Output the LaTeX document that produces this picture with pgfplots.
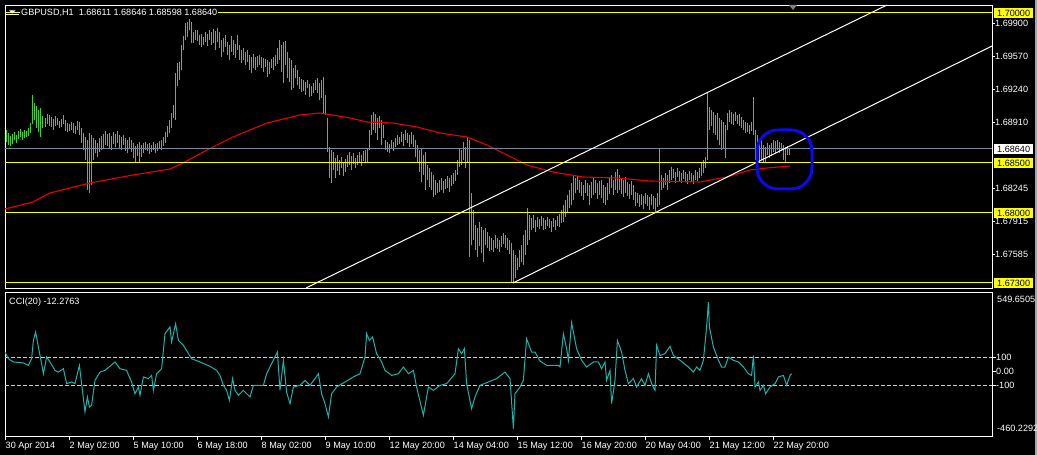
\documentclass[border=0pt]{standalone}
\usepackage{pgfplots}
\pgfplotsset{compat=1.18}
\usepackage{pgfplotstable}
\usepackage{fontspec}
\setmainfont{Liberation Sans}
\definecolor{barcol}{RGB}{60,210,40}
\definecolor{macol}{RGB}{235,0,0}
\definecolor{ccicol}{RGB}{32,178,170}
\definecolor{lvl}{RGB}{255,255,0}
\definecolor{slate}{RGB}{119,136,153}
\definecolor{circ}{RGB}{10,10,240}
\newcommand{\lf}{\fontsize{9.1}{10}\selectfont}

\pgfplotstableread{
x lo hi
0 1.6863 1.6886
1 1.6871 1.6883
2 1.6868 1.6880
3 1.6867 1.6877
4 1.6869 1.6879
5 1.6873 1.6881
6 1.6870 1.6878
7 1.6874 1.6882
8 1.6876 1.6884
9 1.6873 1.6881
10 1.6875 1.6883
11 1.6876 1.6882
12 1.6877 1.6885
13 1.6880 1.6890
14 1.6889 1.6918
15 1.6893 1.6910
16 1.6885 1.6907
17 1.6881 1.6903
18 1.6876 1.6905
19 1.6885 1.6897
20 1.6886 1.6895
21 1.6889 1.6899
22 1.6887 1.6898
23 1.6886 1.6896
24 1.6883 1.6894
25 1.6887 1.6897
26 1.6888 1.6895
27 1.6885 1.6892
28 1.6886 1.6894
29 1.6889 1.6898
30 1.6882 1.6893
31 1.6881 1.6890
32 1.6882 1.6889
33 1.6883 1.6891
34 1.6880 1.6890
35 1.6879 1.6887
36 1.6883 1.6892
37 1.6878 1.6891
38 1.6870 1.6885
39 1.6863 1.6880
40 1.6853 1.6876
41 1.6823 1.6873
42 1.6820 1.6880
43 1.6828 1.6878
44 1.6853 1.6875
45 1.6860 1.6873
46 1.6856 1.6870
47 1.6861 1.6875
48 1.6863 1.6877
49 1.6864 1.6879
50 1.6868 1.6882
51 1.6867 1.6879
52 1.6865 1.6880
53 1.6863 1.6877
54 1.6869 1.6881
55 1.6866 1.6879
56 1.6870 1.6882
57 1.6865 1.6878
58 1.6863 1.6876
59 1.6868 1.6878
60 1.6862 1.6875
61 1.6860 1.6873
62 1.6864 1.6876
63 1.6861 1.6873
64 1.6855 1.6870
65 1.6851 1.6867
66 1.6857 1.6869
67 1.6851 1.6871
68 1.6856 1.6868
69 1.6860 1.6870
70 1.6863 1.6871
71 1.6862 1.6869
72 1.6859 1.6870
73 1.6861 1.6868
74 1.6863 1.6871
75 1.6860 1.6869
76 1.6862 1.6870
77 1.6864 1.6872
78 1.6863 1.6873
79 1.6867 1.6876
80 1.6870 1.6881
81 1.6876 1.6887
82 1.6880 1.6893
83 1.6885 1.6900
84 1.6895 1.6908
85 1.6893 1.6940
86 1.6927 1.6950
87 1.6933 1.6951
88 1.6943 1.6968
89 1.6963 1.6977
90 1.6973 1.6990
91 1.6976 1.6991
92 1.6983 1.6994
93 1.6970 1.6991
94 1.6970 1.6981
95 1.6973 1.6983
96 1.6972 1.6983
97 1.6968 1.6978
98 1.6966 1.6979
99 1.6968 1.6976
100 1.6971 1.6981
101 1.6967 1.6979
102 1.6973 1.6983
103 1.6968 1.6981
104 1.6970 1.6984
105 1.6963 1.6982
106 1.6971 1.6985
107 1.6965 1.6981
108 1.6956 1.6973
109 1.6961 1.6975
110 1.6966 1.6978
111 1.6958 1.6971
112 1.6953 1.6968
113 1.6961 1.6977
114 1.6958 1.6973
115 1.6955 1.6969
116 1.6963 1.6978
117 1.6953 1.6968
118 1.6950 1.6963
119 1.6953 1.6965
120 1.6948 1.6961
121 1.6951 1.6963
122 1.6943 1.6958
123 1.6940 1.6956
124 1.6945 1.6959
125 1.6943 1.6956
126 1.6946 1.6957
127 1.6948 1.6958
128 1.6945 1.6956
129 1.6941 1.6955
130 1.6946 1.6954
131 1.6936 1.6953
132 1.6939 1.6951
133 1.6945 1.6954
134 1.6943 1.6956
135 1.6947 1.6958
136 1.6949 1.6965
137 1.6953 1.6973
138 1.6941 1.6968
139 1.6930 1.6971
140 1.6948 1.6972
141 1.6935 1.6961
142 1.6931 1.6955
143 1.6923 1.6953
144 1.6925 1.6945
145 1.6935 1.6948
146 1.6928 1.6943
147 1.6924 1.6936
148 1.6921 1.6934
149 1.6922 1.6933
150 1.6918 1.6931
151 1.6925 1.6933
152 1.6916 1.6929
153 1.6917 1.6927
154 1.6920 1.6930
155 1.6923 1.6933
156 1.6920 1.6935
157 1.6913 1.6930
158 1.6915 1.6933
159 1.6900 1.6936
160 1.6898 1.6918
161 1.6861 1.6895
162 1.6835 1.6866
163 1.6830 1.6863
164 1.6843 1.6861
165 1.6835 1.6855
166 1.6842 1.6858
167 1.6838 1.6853
168 1.6845 1.6856
169 1.6837 1.6850
170 1.6841 1.6854
171 1.6846 1.6858
172 1.6848 1.6861
173 1.6843 1.6857
174 1.6849 1.6860
175 1.6845 1.6855
176 1.6848 1.6858
177 1.6850 1.6861
178 1.6847 1.6858
179 1.6852 1.6862
180 1.6851 1.6863
181 1.6850 1.6865
182 1.6863 1.6883
183 1.6878 1.6898
184 1.6883 1.6901
185 1.6880 1.6899
186 1.6873 1.6895
187 1.6885 1.6897
188 1.6868 1.6893
189 1.6875 1.6888
190 1.6863 1.6873
191 1.6861 1.6871
192 1.6860 1.6869
193 1.6865 1.6873
194 1.6862 1.6871
195 1.6866 1.6875
196 1.6868 1.6878
197 1.6869 1.6876
198 1.6871 1.6881
199 1.6867 1.6879
200 1.6873 1.6883
201 1.6870 1.6880
202 1.6866 1.6878
203 1.6869 1.6881
204 1.6866 1.6878
205 1.6856 1.6873
206 1.6850 1.6868
207 1.6841 1.6863
208 1.6831 1.6865
209 1.6838 1.6858
210 1.6823 1.6861
211 1.6833 1.6848
212 1.6826 1.6845
213 1.6823 1.6841
214 1.6816 1.6838
215 1.6818 1.6833
216 1.6820 1.6830
217 1.6821 1.6833
218 1.6823 1.6835
219 1.6820 1.6832
220 1.6824 1.6834
221 1.6825 1.6837
222 1.6821 1.6835
223 1.6827 1.6838
224 1.6829 1.6840
225 1.6832 1.6843
226 1.6838 1.6853
227 1.6846 1.6865
228 1.6848 1.6863
229 1.6853 1.6871
230 1.6845 1.6866
231 1.6850 1.6875
232 1.6756 1.6873
233 1.6768 1.6820
234 1.6773 1.6803
235 1.6763 1.6788
236 1.6756 1.6785
237 1.6767 1.6791
238 1.6760 1.6786
239 1.6751 1.6783
240 1.6768 1.6785
241 1.6765 1.6781
242 1.6762 1.6777
243 1.6763 1.6775
244 1.6761 1.6773
245 1.6765 1.6778
246 1.6764 1.6775
247 1.6761 1.6773
248 1.6766 1.6777
249 1.6769 1.6780
250 1.6765 1.6778
251 1.6763 1.6775
252 1.6759 1.6773
253 1.6730 1.6770
254 1.6730 1.6763
255 1.6735 1.6758
256 1.6743 1.6755
257 1.6746 1.6763
258 1.6751 1.6768
259 1.6748 1.6778
260 1.6758 1.6783
261 1.6768 1.6805
262 1.6773 1.6798
263 1.6783 1.6795
264 1.6785 1.6798
265 1.6781 1.6793
266 1.6786 1.6796
267 1.6784 1.6794
268 1.6787 1.6797
269 1.6783 1.6795
270 1.6784 1.6793
271 1.6787 1.6796
272 1.6785 1.6794
273 1.6781 1.6792
274 1.6786 1.6795
275 1.6783 1.6793
276 1.6787 1.6797
277 1.6786 1.6799
278 1.6790 1.6803
279 1.6791 1.6808
280 1.6796 1.6813
281 1.6800 1.6818
282 1.6805 1.6823
283 1.6808 1.6830
284 1.6813 1.6838
285 1.6820 1.6835
286 1.6823 1.6837
287 1.6820 1.6833
288 1.6817 1.6831
289 1.6813 1.6828
290 1.6820 1.6833
291 1.6817 1.6830
292 1.6808 1.6828
293 1.6815 1.6831
294 1.6818 1.6835
295 1.6820 1.6833
296 1.6814 1.6830
297 1.6818 1.6832
298 1.6815 1.6833
299 1.6810 1.6828
300 1.6808 1.6826
301 1.6813 1.6830
302 1.6819 1.6835
303 1.6825 1.6838
304 1.6818 1.6833
305 1.6823 1.6841
306 1.6820 1.6844
307 1.6823 1.6838
308 1.6819 1.6835
309 1.6816 1.6833
310 1.6820 1.6836
311 1.6817 1.6831
312 1.6814 1.6829
313 1.6818 1.6832
314 1.6813 1.6828
315 1.6807 1.6821
316 1.6810 1.6820
317 1.6806 1.6818
318 1.6808 1.6819
319 1.6804 1.6817
320 1.6809 1.6820
321 1.6807 1.6818
322 1.6803 1.6816
323 1.6808 1.6819
324 1.6804 1.6817
325 1.6800 1.6815
326 1.6806 1.6820
327 1.6808 1.6864
328 1.6823 1.6838
329 1.6825 1.6835
330 1.6828 1.6840
331 1.6823 1.6838
332 1.6830 1.6843
333 1.6833 1.6846
334 1.6835 1.6844
335 1.6830 1.6841
336 1.6836 1.6845
337 1.6832 1.6842
338 1.6830 1.6840
339 1.6834 1.6843
340 1.6831 1.6841
341 1.6829 1.6839
342 1.6833 1.6842
343 1.6831 1.6840
344 1.6829 1.6838
345 1.6833 1.6843
346 1.6832 1.6841
347 1.6835 1.6845
348 1.6837 1.6850
349 1.6840 1.6853
350 1.6845 1.6856
351 1.6853 1.6920
352 1.6883 1.6906
353 1.6887 1.6903
354 1.6880 1.6901
355 1.6878 1.6898
356 1.6873 1.6900
357 1.6868 1.6895
358 1.6863 1.6893
359 1.6865 1.6891
360 1.6855 1.6888
361 1.6883 1.6900
362 1.6891 1.6903
363 1.6889 1.6901
364 1.6888 1.6899
365 1.6892 1.6901
366 1.6889 1.6898
367 1.6887 1.6899
368 1.6885 1.6896
369 1.6883 1.6893
370 1.6880 1.6891
371 1.6881 1.6890
372 1.6879 1.6888
373 1.6882 1.6891
374 1.6878 1.6916
375 1.6853 1.6883
376 1.6851 1.6878
377 1.6850 1.6873
378 1.6853 1.6875
379 1.6851 1.6868
380 1.6850 1.6866
381 1.6858 1.6870
382 1.6855 1.6868
383 1.6857 1.6870
384 1.6861 1.6873
385 1.6860 1.6872
386 1.6863 1.6873
387 1.6860 1.6871
388 1.6863 1.6870
389 1.6853 1.6868
390 1.6851 1.6866
391 1.6858 1.6867
392 1.6858 1.6865
}\bars

\pgfplotstableread{
x y
0 1.6804
14 1.6811
22.5 1.6820
42.5 1.6830
64 1.6838
82.5 1.6844
89 1.6850
101 1.6863
114 1.6876
131 1.6890
147.5 1.6898
157.5 1.6900
172.5 1.6895
181 1.6891
194 1.6890
206 1.6886
217.5 1.6880
231 1.6876
241 1.6868
251 1.6858
261 1.6848
274 1.6841
289 1.6836
306 1.6835
322.5 1.6832
347.5 1.6831
361 1.6836
372.5 1.6843
381 1.6845
392.5 1.6847
}\ma

\pgfplotstableread{
x y
0 138
1.7 90
4.2 67
9.2 60
11.7 43
13.3 90
14.2 221
15.3 281
16.7 174
18.3 55
19.2 -17
20.8 102
22.5 67
25 7
26.7 -5
29.2 19
30.8 -88
33.3 -76
35 -88
37.2 43
38.3 -88
40 -290
41.2 -183
42.2 -255
43.3 -243
45 -64
47.5 -5
50 7
55 67
57.5 19
60.8 7
63.3 -76
65 -160
66.7 -112
67.5 -171
69.2 -40
71.7 -52
73.3 -29
74.2 -136
75.8 -17
78.3 19
80 269
82.5 317
83.3 210
85.3 340
86.7 221
89.2 186
93.3 90
97.5 67
102.5 36
105.8 7
107.5 -29
109.2 -100
110.8 -136
112.2 -207
113.8 -52
115 -136
116.7 -171
119.2 -136
122.5 -183
124.2 -100
129.2 -100
130.8 -17
133.3 55
136.2 138
137.5 -136
139.2 79
140.8 -148
142.5 -231
144.2 -112
147.5 -100
150 -64
152.5 -100
155 -52
156.7 -17
158.3 -160
160 -231
161.7 -326
163.3 -160
165.8 -112
170 -76
174.2 -40
177.5 -17
180 102
180.8 269
182.2 221
183.8 245
185.8 126
188.3 67
190 7
193.3 -29
196.7 -17
199.2 31
201.7 -17
204.2 7
205.8 -112
209.2 -314
211.7 -112
214.2 -136
217.5 -100
220.8 -88
225 -17
226.7 162
228.3 126
229.7 162
230.8 -88
233.3 -267
235 -183
237.5 -100
241.7 -76
245.8 -52
250 -5
252.5 -52
254.2 -410
255 -160
257.5 -112
259.2 -64
260.8 233
263.3 138
265 138
267.5 74
270.8 43
276.7 43
277.5 31
279.2 269
280.8 162
281.7 79
283.3 348
285.8 162
288.3 79
290.8 31
294.2 67
296.7 67
298.3 19
300 67
300.8 -64
302.5 7
303.3 -231
305 -64
306.2 221
308.3 138
310 7
311.7 -88
314.2 -52
315.8 -112
318.3 -52
320 -100
321.7 -17
323.3 -88
325 -136
325.8 186
327.5 114
330 126
332.5 179
334.2 114
337.5 79
341.7 31
344.2 -5
345.8 31
347.5 7
349.2 79
350.8 317
351.7 495
352.2 317
354.2 174
356.7 79
358.3 31
360 31
361.7 102
364.2 79
366.7 67
369.2 31
371.7 -17
373.3 -29
374.2 114
375 -112
376.7 -76
377.5 -136
379.2 -100
380.3 -160
382.5 -112
385 -88
386.7 -40
389.2 -29
390.8 -100
392.5 -29
393.3 -17
}\cci

\begin{document}
\begin{tikzpicture}[x=1pt,y=1pt,font=\lf]
\fill[black] (0,0) rectangle (1037,455);
\fill[black!35] (1035,0) rectangle (1037,455);

\begin{axis}[name=main, at={(5pt,167pt)}, anchor=south west, scale only axis,
  width=987pt, height=283pt,
  xmin=0, xmax=493.5, ymin=1.6725, ymax=1.7008,
  axis background/.style={fill=black},
  axis line style={white, line width=0.8pt},
  xtick=\empty,
  ytick={1.699,1.6957,1.6924,1.6891,1.68245,1.67915,1.67585},
  yticklabels={1.69900,1.69570,1.69240,1.68910,1.68245,1.67915,1.67585},
  ytick pos=right, yticklabel pos=right,
  tick align=outside, major tick length=3pt,
  tick style={white, line width=0.8pt},
  yticklabel style={text=white, anchor=west, inner sep=0pt, font=\lf},
  scaled y ticks=false,
]
\addplot[draw=none, mark=none, forget plot,
  error bars/.cd, y dir=plus, y explicit, error mark=none,
  error bar style={draw=barcol, line width=1pt, solid}]
  table[x=x, y=lo, y error plus expr=\thisrow{hi}-\thisrow{lo}] {\bars};
\addplot[macol, line width=1.1pt, mark=none] table[x=x,y=y] {\ma};
\addplot[lvl, line width=1pt, mark=none] coordinates {(0,1.7000) (493.5,1.7000)};
\addplot[lvl, line width=1pt, mark=none] coordinates {(0,1.6850) (493.5,1.6850)};
\addplot[lvl, line width=1pt, mark=none] coordinates {(0,1.6800) (493.5,1.6800)};
\addplot[lvl, line width=1pt, mark=none] coordinates {(0,1.6730) (493.5,1.6730)};
\addplot[slate, line width=1pt, mark=none] coordinates {(0,1.6864) (493.5,1.6864)};
\addplot[white, line width=1pt, mark=none] coordinates {(150.5,1.6725) (441,1.7008)};
\addplot[white, line width=1pt, mark=none] coordinates {(254,1.6730) (493.5,1.6967)};
\draw[circ, line width=3pt, rounded corners=21pt] (axis cs:376,1.6883) rectangle (axis cs:403.5,1.6824);
\coordinate (L1) at (axis cs:493.5,1.7000);
\coordinate (L2) at (axis cs:493.5,1.6864);
\coordinate (L3) at (axis cs:493.5,1.6850);
\coordinate (L4) at (axis cs:493.5,1.6800);
\coordinate (L5) at (axis cs:493.5,1.6730);
\end{axis}

\tikzset{lab/.style={anchor=west, inner xsep=3pt, inner ysep=1.6pt, text height=6.4pt, text depth=0pt, font=\lf}}
\node[lab, fill=lvl, text=black] at ([xshift=2pt]L1) {1.70000};
\node[lab, fill=white, text=black] at ([xshift=2pt]L2) {1.68640};
\node[lab, fill=lvl, text=black] at ([xshift=2pt]L3) {1.68500};
\node[lab, fill=lvl, text=black] at ([xshift=2pt]L4) {1.68000};
\node[lab, fill=lvl, text=black] at ([xshift=2pt]L5) {1.67300};

% title
\node[anchor=base west, text=white, fill=black, inner sep=1pt] at (20,439) {GBPUSD,H1\ \ 1.68611 1.68646 1.68598 1.68640};
\fill[white] (9,444.5) -- (15.5,444.5) -- (12.25,441.5) -- cycle;
\draw[white, line width=1pt] (5,440.5) -- (18.5,440.5);
\fill[black!50] (789,450) -- (797,450) -- (793,445) -- cycle;

\begin{axis}[name=cci, at={(5pt,19pt)}, anchor=south west, scale only axis,
  width=987pt, height=144pt,
  xmin=0, xmax=493.5, ymin=-462, ymax=567,
  axis background/.style={fill=black},
  axis line style={white, line width=0.8pt},
  xtick={0,32,64,96,128,160,192,224,256,288,320,352,384},
  xticklabels={30 Apr 2014,2 May 02:00,5 May 10:00,6 May 18:00,8 May 02:00,9 May 10:00,12 May 20:00,14 May 04:00,15 May 12:00,16 May 20:00,20 May 04:00,21 May 12:00,22 May 20:00},
  xtick pos=bottom,
  ytick={100,0,-100}, yticklabels={100,0.00,-100},
  ytick pos=right, yticklabel pos=right,
  tick align=outside, major tick length=4pt,
  tick style={white, line width=0.8pt},
  xticklabel style={text=white, anchor=north west, inner sep=0pt, xshift=0.5pt, yshift=-2pt, font=\lf},
  yticklabel style={text=white, anchor=west, inner sep=0pt, font=\lf},
]
\addplot[white!80!black, line width=0.9pt, dash pattern=on 4pt off 2pt, mark=none] coordinates {(0,100) (493.5,100)};
\addplot[white!80!black, line width=0.9pt, dash pattern=on 4pt off 2pt, mark=none] coordinates {(0,-100) (493.5,-100)};
\addplot[ccicol, line width=1pt, mark=none] table[x=x,y=y] {\cci};
\coordinate (C1) at (rel axis cs:1,1);
\coordinate (C2) at (rel axis cs:1,0);
\end{axis}
\node[anchor=north west, text=white, inner sep=0pt, font=\lf] at ([xshift=5pt,yshift=-4pt]C1) {549.6505};
\node[anchor=south west, text=white, inner sep=0pt, font=\lf] at ([xshift=5pt,yshift=4pt]C2) {-460.2292};
\node[anchor=base west, text=white, inner sep=0pt] at (9,150) {CCI(20) -12.2763};

\pgfresetboundingbox
\path[use as bounding box] (0,0) rectangle (1037,455);
\end{tikzpicture}
\end{document}
